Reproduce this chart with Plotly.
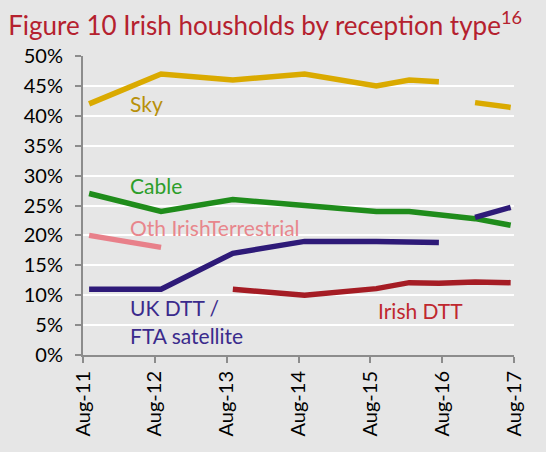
import plotly.graph_objects as go

dates = ["2011-09-01", "2012-09-01", "2013-09-01", "2014-09-01", "2015-09-01",
         "2016-02-15", "2016-07-15", "2016-10-15", "2017-01-15", "2017-07-15"]

sky = [42, 47, 46, 47, 45, 46, 45.7, None, 42.2, 41.4]
cable = [27, 24, 26, 25, 24, 24, None, None, 22.8, 21.7]
oth_irish_terrestrial = [20, 18, None, None, None, None, None, None, None, None]
uk_dtt_fta = [11, 11, 17, 19, 19, 19, 18.8, None, 23, 24.7]
irish_dtt = [None, None, 11, 10, 11.1, 12.1, 12, None, 12.2, 12.1]

tick_vals = ["2011-08-01", "2012-08-01", "2013-08-01", "2014-08-01",
             "2015-08-01", "2016-08-01", "2017-08-01"]
tick_text = ["Aug-11", "Aug-12", "Aug-13", "Aug-14", "Aug-15", "Aug-16", "Aug-17"]
y_ticks = [0, 5, 10, 15, 20, 25, 30, 35, 40, 45, 50]
y_text = [f"{v}%" for v in y_ticks]

series = [
    ("Sky", sky, "#DAAA00", False),
    ("Cable", cable, "#1F8C1B", True),
    ("Oth IrishTerrestrial", oth_irish_terrestrial, "#E8808A", False),
    ("UK DTT / FTA satellite", uk_dtt_fta, "#2E1A78", False),
    ("Irish DTT", irish_dtt, "#A51C24", True),
]

fig = go.Figure()
for name, vals, color, cg in series:
    fig.add_trace(go.Scatter(x=dates, y=vals, mode="lines", name=name,
                             connectgaps=cg, hoverinfo="skip",
                             line=dict(color=color, width=5.5)))

font = "Lato, 'Open Sans', sans-serif"
labels = [
    ("Sky", "2012-03-15", 42.0, "#B8900A"),
    ("Cable", "2012-03-15", 28.4, "#2C9E2A"),
    ("Oth IrishTerrestrial", "2012-03-15", 21.4, "#E8868C"),
    ("UK DTT /", "2012-03-15", 8.0, "#3A2A8C"),
    ("FTA satellite", "2012-03-15", 3.3, "#3A2A8C"),
    ("Irish DTT", "2015-09-01", 7.4, "#C0282F"),
]
for text, x, y, c in labels:
    fig.add_annotation(x=x, y=y, text=text, showarrow=False, xanchor="left",
                       yanchor="middle", xref="x", yref="y",
                       font=dict(family=font, size=21, color=c))

fig.update_layout(
    width=546, height=452,
    margin=dict(l=83, r=32, t=56, b=97),
    paper_bgcolor="#E6E6E6", plot_bgcolor="#E6E6E6",
    showlegend=False,
    title=dict(text="Figure 10 Irish housholds by reception type<sup>16</sup>",
               x=0.015, xanchor="left", y=0.942, yanchor="middle",
               font=dict(family=font, size=26, color="#B5212E")),
    font=dict(family=font, size=20, color="#000000"),
)
fig.update_xaxes(type="date", range=["2011-08-01", "2017-08-01"],
                 tickmode="array", tickvals=tick_vals, ticktext=tick_text,
                 tickangle=-90, showgrid=False, zeroline=False,
                 showline=True, linecolor="#8C8C8C", linewidth=2,
                 ticks="outside", ticklen=6, tickcolor="#8C8C8C", tickwidth=2,
                 tickfont=dict(family=font, size=20, color="#000000"))
fig.update_yaxes(range=[0, 50], tickmode="array", tickvals=y_ticks, ticktext=y_text,
                 showgrid=True, gridcolor="#FFFFFF", gridwidth=2, zeroline=False,
                 showline=True, linecolor="#8C8C8C", linewidth=2,
                 ticks="outside", ticklen=6, tickcolor="#8C8C8C", tickwidth=2,
                 ticklabelstandoff=8,
                 tickfont=dict(family=font, size=20, color="#000000"))

fig.write_html("out.html", config={"displayModeBar": False},
               post_script="document.body.style.margin='0';document.body.style.background='#E6E6E6';")
